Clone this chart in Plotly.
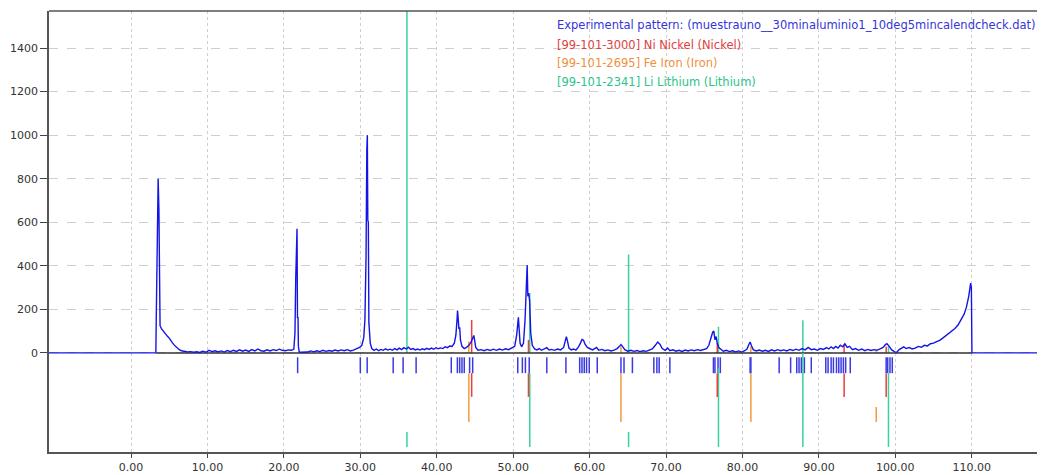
import plotly.graph_objects as go

# ---------------- data ----------------
exp_x = [-11, 3.25, 3.3, 3.45, 3.55, 3.65, 3.72, 3.8, 4.0, 4.2, 4.4, 4.6, 4.8, 5.0, 5.2, 5.4, 5.6, 5.8, 6.0, 6.3, 6.6,
         7.0, 7.4, 7.8, 8.2, 8.6, 9.0, 9.4, 9.8, 10.2, 10.6, 11.0, 11.4, 11.8, 12.2, 12.6, 13.0, 13.4, 13.8, 14.2, 14.6,
         15.0, 15.4, 15.8, 16.2, 16.6, 17.0, 17.4, 17.8, 18.2, 18.6, 19.0, 19.4, 19.8, 20.2, 20.6, 21.0, 21.3, 21.45,
         21.55, 21.65, 21.72, 21.78, 21.85, 21.9, 22.0, 22.3, 22.7, 23.1, 23.5, 23.9, 24.3, 24.7, 25.1, 25.5, 25.9,
         26.3, 26.7, 27.1, 27.5, 27.9, 28.3, 28.7, 29.1, 29.5, 29.9, 30.2, 30.45, 30.6, 30.75, 30.85, 30.92, 30.98,
         31.05, 31.12, 31.3, 31.5, 31.8, 32.1, 32.4, 32.7, 33.0, 33.3, 33.6, 33.9, 34.2, 34.5, 34.8, 35.1, 35.4, 35.7,
         36.0, 36.3, 36.6, 36.9, 37.2, 37.5, 37.8, 38.1, 38.4, 38.7, 39.0, 39.3, 39.6, 39.9, 40.2, 40.5, 40.8, 41.1,
         41.4, 41.7, 42.0, 42.3, 42.5, 42.65, 42.72, 42.8, 42.9, 43.0, 43.1, 43.3, 43.6, 43.9, 44.2, 44.5, 44.7, 44.85,
         44.95, 45.1, 45.4, 45.8, 46.2, 46.6, 47.0, 47.4, 47.8, 48.2, 48.6, 49.0, 49.4, 49.8, 50.2, 50.45, 50.6, 50.68,
         50.78, 50.9, 51.1, 51.35, 51.55, 51.7, 51.83, 51.92, 52.02, 52.15, 52.3, 52.5, 52.8, 53.1, 53.4, 53.7, 54.0,
         54.4, 54.7, 55.0, 55.4, 55.8, 56.2, 56.6, 56.85, 56.96, 57.1, 57.3, 57.6, 57.9, 58.2, 58.5, 58.8, 59.0, 59.2,
         59.4, 59.7, 60.0, 60.4, 60.9, 61.2, 61.6, 62.0, 62.4, 62.8, 63.2, 63.6, 63.9, 64.1, 64.3, 64.6, 65.0, 65.4,
         65.8, 66.2, 66.6, 67.0, 67.4, 67.8, 68.2, 68.6, 68.9, 69.2, 69.5, 69.9, 70.2, 70.5, 70.9, 71.3, 71.7, 72.1,
         72.5, 72.9, 73.3, 73.7, 74.1, 74.5, 74.9, 75.3, 75.6, 75.9, 76.1, 76.25, 76.4, 76.55, 76.7, 76.9, 77.2, 77.5,
         77.9, 78.3, 78.7, 79.1, 79.5, 79.9, 80.3, 80.6, 80.85, 81.0, 81.15, 81.4, 81.8, 82.2, 82.6, 83.0, 83.4, 83.8,
         84.2, 84.6, 85.0, 85.4, 85.8, 86.2, 86.6, 87.0, 87.4, 87.8, 88.2, 88.6, 89.0, 89.4, 89.8, 90.2, 90.6, 91.0,
         91.3, 91.6, 91.9, 92.2, 92.5, 92.8, 93.1, 93.4, 93.7, 94.0, 94.4, 94.8, 95.2, 95.6, 96.0, 96.4, 96.8, 97.2,
         97.6, 98.0, 98.4, 98.7, 98.9, 99.2, 99.5, 99.9, 100.2, 100.5, 100.8, 101.1, 101.4, 101.8, 102.2, 102.6, 103.0,
         103.4, 103.8, 104.2, 104.6, 105.0, 105.4, 105.8, 106.2, 106.6, 107.0, 107.4, 107.8, 108.2, 108.6, 109.0,
         109.3, 109.6, 109.85, 109.95, 110.02, 121]
exp_y = [0, 0, 150, 660, 800, 660, 230, 125, 110, 100, 92, 85, 75, 68, 55, 47, 38, 30, 22, 15, 10,
         6, 4, 6, 3, 5, 2, 8, 3, 12, 6, 10, 5, 9, 4, 11, 6, 12, 7, 14, 8,
         13, 7, 15, 9, 18, 10, 8, 14, 9, 15, 11, 17, 12, 10, 14, 12, 18, 90,
         340, 570, 570, 160, 165, 30, 5, 3, 2, 4, 9, 5, 10, 6, 12, 7, 11,
         8, 13, 9, 14, 10, 15, 9, 13, 18, 25, 35, 70, 150, 440, 930, 1000, 610,
         600, 140, 45, 20, 12, 18, 10, 16, 12, 19, 13, 17, 12, 20, 14, 22, 15, 24,
         18, 26, 16, 20, 14, 18, 13, 19, 15, 21, 16, 22, 17, 24, 19, 23, 20, 28,
         24, 32, 30, 45, 80, 150, 195, 160, 110, 118, 60, 30, 20, 25, 35, 50, 65, 80,
         60, 25, 12, 15, 10, 16, 11, 17, 12, 18, 13, 19, 15, 22, 30, 80, 150, 163,
         110, 45, 28, 45, 150, 330, 404, 260, 275, 240, 90, 35, 18, 14, 20, 12, 18,
         24, 13, 16, 12, 18, 14, 25, 60, 75, 55, 22, 14, 18, 13, 25, 45, 62, 58,
         40, 25, 20, 14, 25, 12, 16, 10, 14, 9, 13, 20, 30, 38, 30, 15, 8, 12,
         7, 11, 6, 10, 7, 12, 18, 35, 50, 40, 20, 12, 22, 10, 14, 8, 12, 7,
         13, 9, 14, 10, 15, 11, 16, 20, 35, 70, 95, 100, 60, 75, 45, 25, 15, 8,
         12, 6, 10, 5, 9, 4, 10, 18, 40, 50, 35, 15, 9, 13, 8, 12, 7, 14,
         9, 15, 10, 14, 9, 16, 11, 17, 12, 20, 14, 25, 15, 18, 12, 20, 16, 24,
         18, 28, 20, 30, 22, 35, 28, 42, 25, 30, 15, 20, 12, 18, 10, 16, 11, 15,
         12, 18, 25, 38, 42, 30, 15, 5, 3, 15, 22, 28, 20, 25, 18, 22, 30,
         26, 35, 32, 42, 45, 52, 58, 68, 78, 90, 100, 112, 128, 150, 178,
         210, 260, 320, 300, 0, 0]

bg_x = [3.3, 110.0]
bg_y = [0, 0]

# experimental peak positions (blue tick row)
peak_pos = [21.8, 30.0, 30.9, 34.3, 35.6, 37.3, 41.9, 42.7, 43.0, 43.3, 43.6, 44.3, 44.7, 50.6, 51.2, 51.6,
            52.1, 54.4, 56.9, 58.7, 59.0, 59.3, 59.6, 59.95, 61.0, 64.1, 64.5, 65.6, 68.4, 68.8, 69.1, 70.5,
            76.2, 76.4, 76.8, 77.1, 81.0, 81.1, 84.8, 86.3, 87.1, 87.4, 87.7, 88.1, 89.0, 90.9, 91.2, 91.6,
            91.9, 92.3, 92.6, 92.9, 93.2, 93.5, 94.1, 98.8, 99.0, 99.3, 99.6]

# reference phases: positions, height in main pane, top of stick in lower pane
ni_pos = [44.57, 52.0, 76.7, 93.3, 98.8]
ni_main = [151, 60, 45, 40, 30]
ni_low = [-93, -93, -93, -93, -93]

fe_pos = [44.2, 64.1, 81.1, 97.5]
fe_main = [52, 30, 30, 10]
fe_low = [-93, -93, -93, -248]

li_pos = [36.1, 52.17, 65.1, 76.86, 87.9, 99.1]
li_main = [1700, 274, 452, 120, 150, 30]
li_low = [-363, -93, -363, -70, 0, -93]

x_ticks = [0, 10, 20, 30, 40, 50, 60, 70, 80, 90, 100, 110]
y_ticks = [0, 200, 400, 600, 800, 1000, 1200, 1400]

legend_texts = ["Experimental pattern: (muestrauno__30minaluminio1_10deg5mincalendcheck.dat)",
                "[99-101-3000] Ni Nickel (Nickel)",
                "[99-101-2695] Fe Iron (Iron)",
                "[99-101-2341] Li Lithium (Lithium)"]

# ---------------- styles ----------------
BLUE = "#1414e6"
RED = "#e8403a"
ORANGE = "#f39a3c"
GREEN = "#38d29a"
TEXT_COLORS = ["#3535d8", "#e04040", "#f0903a", "#2cc48c"]

TICK_ROW = (-20, -93)
NI_BASE = -202
FE_BASE = -317
LI_BASE = -432


def sticks(pos, y0s, y1s):
    xs, ys = [], []
    for p, a, b in zip(pos, y0s, y1s):
        xs += [p, p, None]
        ys += [a, b, None]
    return xs, ys


fig = go.Figure()

# main-pane sticks of the reference phases
for pos, hts, col in [(li_pos, li_main, GREEN), (fe_pos, fe_main, ORANGE), (ni_pos, ni_main, RED)]:
    xs, ys = sticks(pos, [0] * len(pos), hts)
    fig.add_trace(go.Scatter(x=xs, y=ys, mode="lines", line=dict(color=col, width=1.5),
                             hoverinfo="skip", showlegend=False))

# background line
fig.add_trace(go.Scatter(x=bg_x, y=bg_y, mode="lines", line=dict(color="#333333", width=1.5),
                         showlegend=False))

# experimental pattern
fig.add_trace(go.Scatter(x=exp_x, y=exp_y, mode="lines", line=dict(color=BLUE, width=1.4),
                         showlegend=False))

# lower pane: experimental peak ticks
xs, ys = sticks(peak_pos, [TICK_ROW[0]] * len(peak_pos), [TICK_ROW[1]] * len(peak_pos))
fig.add_trace(go.Scatter(x=xs, y=ys, mode="lines", line=dict(color="#3a3ae0", width=1.5),
                         hoverinfo="skip", showlegend=False))

# lower pane: phase sticks
for pos, tops, base, col in [(li_pos, li_low, LI_BASE, GREEN), (fe_pos, fe_low, FE_BASE, ORANGE),
                             (ni_pos, ni_low, NI_BASE, RED)]:
    xs, ys = sticks(pos, [base] * len(pos), tops)
    fig.add_trace(go.Scatter(x=xs, y=ys, mode="lines", line=dict(color=col, width=1.5),
                             hoverinfo="skip", showlegend=False))

# legend texts
ys_paper = [0.968, 0.923, 0.882, 0.840]
for txt, col, yp in zip(legend_texts, TEXT_COLORS, ys_paper):
    fig.add_annotation(x=0.508, y=yp, xref="paper", yref="paper", text=txt, showarrow=False,
                       xanchor="left", yanchor="middle",
                       font=dict(family="DejaVu Sans", size=11.5, color=col))

# top frame line
fig.add_shape(type="line", xref="paper", yref="paper", x0=0, x1=1, y0=1, y1=1,
              line=dict(color="#555555", width=1.5))

# page body has an 8px margin, so the figure is sized to fill the rest of the window
fig.update_layout(
    width=1037, height=467,
    margin=dict(l=41, r=0, t=3, b=23),
    paper_bgcolor="white", plot_bgcolor="white",
    font=dict(family="DejaVu Sans", size=11, color="#333333"),
    xaxis=dict(range=[-10.73, 119.58], tickvals=x_ticks, tickformat=".2f",
               showgrid=True, gridcolor="#cfcfcf", griddash="dot", gridwidth=1,
               showline=True, linecolor="#555555", linewidth=1.5,
               ticks="outside", ticklen=4, tickcolor="#444444", zeroline=False,
               tickfont=dict(size=11, color="#333333")),
    yaxis=dict(range=[-455, 1570], tickvals=y_ticks,
               showgrid=True, gridcolor="#cfcfcf", griddash="dash", gridwidth=1,
               showline=True, linecolor="#555555", linewidth=1.5,
               ticks="outside", ticklen=7, tickcolor="#444444", zeroline=False,
               tickfont=dict(size=11, color="#333333")),
)

fig.write_html("out.html")
